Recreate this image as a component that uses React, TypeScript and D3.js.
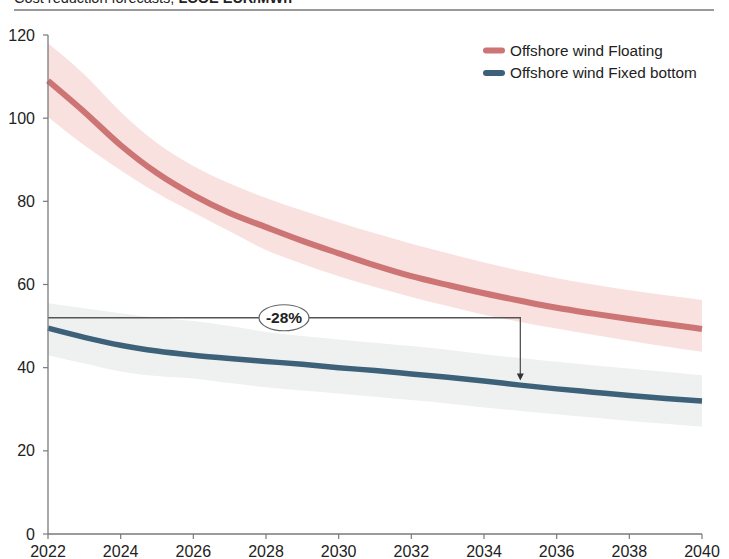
import React from "react";
import * as d3 from "d3";

const years = [2022, 2023, 2024, 2025, 2026, 2027, 2028, 2029, 2030, 2031, 2032, 2033, 2034, 2035, 2036, 2037, 2038, 2039, 2040];
const floatingMid = [109, 101.5, 93.5, 86.8, 81.5, 77.2, 73.8, 70.5, 67.5, 64.6, 62, 59.9, 57.9, 56.1, 54.4, 53, 51.7, 50.5, 49.3];
const floatingHigh = [118, 110.5, 101.5, 94, 88.5, 84.3, 80.8, 77.8, 75, 72.3, 69.8, 67.5, 65.3, 63.3, 61.5, 60, 58.6, 57.4, 56.3];
const floatingLow = [100.3, 93.5, 87.5, 82, 77.3, 72.8, 68.3, 65, 62, 59.4, 57, 54.8, 52.7, 51, 49.4, 47.9, 46.5, 45.1, 43.8];
const fixedMid = [49.5, 47.3, 45.4, 44, 43, 42.2, 41.5, 40.8, 40, 39.3, 38.5, 37.7, 36.8, 35.8, 34.9, 34.1, 33.3, 32.6, 32];
const fixedHigh = [55.5, 54.3, 53.1, 52, 51.2, 50, 48.6, 47.6, 46.8, 46, 45.2, 44.3, 43.2, 42.3, 41.4, 40.6, 39.8, 39, 38.2];
const fixedLow = [43, 41, 39.1, 38, 37.4, 36.3, 35.3, 34.5, 33.8, 33, 32.2, 31.4, 30.4, 29.6, 28.8, 28, 27.2, 26.5, 25.8];
const xTicks = [2022, 2024, 2026, 2028, 2030, 2032, 2034, 2036, 2038, 2040];
const yTicks = [0, 20, 40, 60, 80, 100, 120];
const seriesNames = ["Offshore wind Floating", "Offshore wind Fixed bottom"];
const annotationStartYear = 2022;
const annotationEndYear = 2035;
const annotationLevel = 52;
const annotationTarget = 36.9;
const annotationLabel = "-28%";
const title = "Cost reduction forecasts, ";
const titleBold = "LCOE EUR/MWh";

const COL_FLOAT = "#cd7475";
const COL_FLOAT_BAND = "#f8e1df";
const COL_FIXED = "#3d6179";
const COL_FIXED_BAND = "#eff0f0";
const FONT = "'Liberation Sans', Arial, sans-serif";

export default function App() {
  const W = 729, H = 559;
  const x = d3.scaleLinear().domain([2022, 2040]).range([48, 702]);
  const y = d3.scaleLinear().domain([0, 120]).range([534, 35]);

  const idx = years.map((_, i) => i);
  const area = (hi: number[], lo: number[]) =>
    d3.area<number>().x((i) => x(years[i])).y0((i) => y(lo[i])).y1((i) => y(hi[i])).curve(d3.curveMonotoneX)(idx) || "";
  const line = (v: number[]) =>
    d3.line<number>().x((i) => x(years[i])).y((i) => y(v[i])).curve(d3.curveMonotoneX)(idx) || "";

  const axisColor = "#7a7a7a";
  const ax1 = x(annotationStartYear), ax2 = x(annotationEndYear), ay = y(annotationLevel), ayt = y(annotationTarget);
  const labelX = 284;

  return (
    <svg width={W} height={H} style={{ display: "block", position: "absolute", left: 0, top: 0 }} fontFamily={FONT}>
      <rect width={W} height={H} fill="#fff" />
      <text x={14} y={3} fontSize={14.5} fill="#222">
        {title}
        <tspan fontWeight="bold">{titleBold}</tspan>
      </text>
      <line x1={14} x2={714} y1={10} y2={10} stroke="#9a9a9a" strokeWidth={2} />

      <path d={area(floatingHigh, floatingLow)} fill={COL_FLOAT_BAND} />
      <path d={area(fixedHigh, fixedLow)} fill={COL_FIXED_BAND} />
      <path d={line(floatingMid)} fill="none" stroke={COL_FLOAT} strokeWidth={6} />
      <path d={line(fixedMid)} fill="none" stroke={COL_FIXED} strokeWidth={5.5} />

      {/* annotation */}
      <polyline points={`${ax1},${ay} ${ax2},${ay} ${ax2},${ayt - 6}`} fill="none" stroke="#555" strokeWidth={1.3} />
      <path d={`M${ax2 - 3.5},${ayt - 7} L${ax2 + 3.5},${ayt - 7} L${ax2},${ayt} Z`} fill="#333" />
      <ellipse cx={labelX} cy={ay} rx={25} ry={13} fill="#fff" stroke="#666" strokeWidth={1.2} />
      <text x={labelX} y={ay + 5.5} textAnchor="middle" fontSize={15.5} fontWeight="bold" fill="#222">{annotationLabel}</text>

      {/* axes */}
      <line x1={48} x2={48} y1={y(120)} y2={y(0)} stroke={axisColor} strokeWidth={1.3} />
      <line x1={48} x2={702} y1={y(0)} y2={y(0)} stroke={axisColor} strokeWidth={1.3} />
      {yTicks.map((t) => (
        <g key={t}>
          <line x1={43} x2={48} y1={y(t)} y2={y(t)} stroke={axisColor} strokeWidth={1.2} />
          <text x={35} y={y(t) + 5.5} textAnchor="end" fontSize={16} fill="#222">{t}</text>
        </g>
      ))}
      {xTicks.map((t) => (
        <g key={t}>
          <line x1={x(t)} x2={x(t)} y1={y(0)} y2={y(0) + 5} stroke={axisColor} strokeWidth={1.2} />
          <text x={x(t)} y={557} textAnchor="middle" fontSize={16} fill="#222">{t}</text>
        </g>
      ))}

      {/* legend */}
      {seriesNames.map((n, i) => (
        <g key={n} transform={`translate(0, ${50.5 + i * 22.5})`}>
          <line x1={486} x2={502} y1={0} y2={0} stroke={i === 0 ? COL_FLOAT : COL_FIXED} strokeWidth={6} strokeLinecap="round" />
          <text x={510} y={5.3} fontSize={15.3} fill="#222">{n}</text>
        </g>
      ))}
    </svg>
  );
}
